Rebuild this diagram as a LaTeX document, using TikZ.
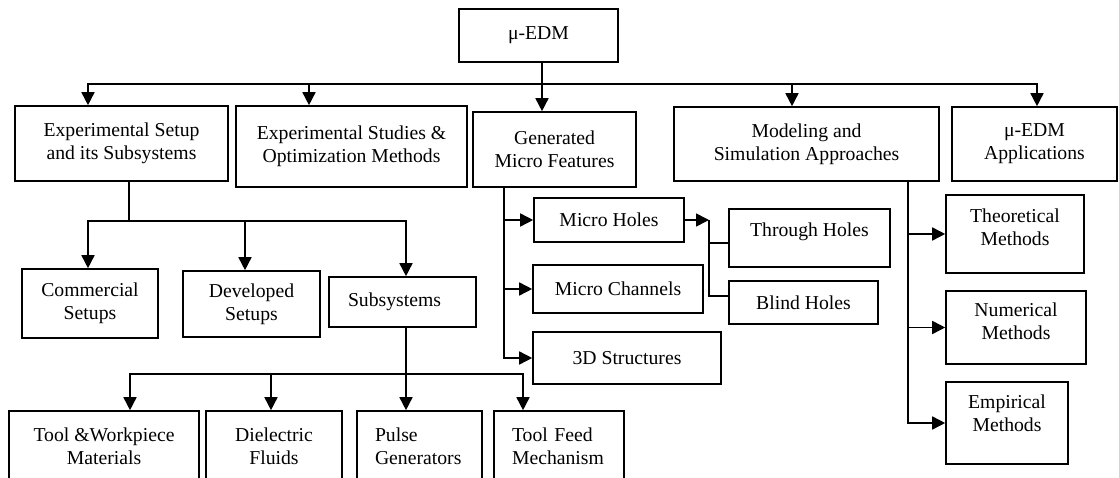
\documentclass[tikz,border=0pt]{standalone}
\usepackage{fontspec}
\setmainfont{Liberation Serif}
\usetikzlibrary{arrows.meta}
\newcommand{\upshift}[2]{\raisebox{#1}[\height][\depth]{#2}}
\begin{document}
\begin{tikzpicture}[x=1pt,y=-1pt,
  box/.style={draw, line width=1.6pt, inner sep=0pt, align=center, font=\fontsize{19.7}{23}\selectfont},
  lbox/.style={box, align=left, inner xsep=#1},
  wire/.style={line width=1.6pt},
  arr/.style={wire, -{Triangle[length=13pt,width=13pt]}}]
\useasboundingbox (0,0) rectangle (1119,478);
\fill[white] (0,0) rectangle (1119,478);

% top level
\node[box, minimum width=159, minimum height=53] (top) at (538.5,35.5) {μ-EDM};
\node[box, minimum width=213, minimum height=75] (e1) at (121.5,143.5) {Experimental Setup\\and its Subsystems};
\node[box, minimum width=231, minimum height=81] (e2) at (351.5,146.5) {Experimental Studies \&\\Optimization Methods};
\node[box, minimum width=163, minimum height=75] (gen) at (554.5,149.5) {Generated\\Micro Features};
\node[box, minimum width=265, minimum height=74] (mod) at (806.5,144) {Modeling and\\Simulation Approaches};
\node[box, minimum width=165, minimum height=74] (app) at (1034.5,144) {μ-EDM\\Applications};

% setups
\node[box, minimum width=136, minimum height=69] (comm) at (90,303.5) {Commercial\\Setups};
\node[box, minimum width=137, minimum height=66] (dev) at (251.5,304) {Developed\\Setups};
\node[lbox=19pt, text width=109pt, minimum width=147, minimum height=50] (subs) at (402.5,302) {Subsystems};

% subsystems
\node[box, minimum width=190, minimum height=70] (tw) at (104,446) {Tool \&Workpiece\\Materials};
\node[box, minimum width=136, minimum height=70] (df) at (274,446) {Dielectric\\Fluids};
\node[lbox=18pt, text width=89pt, minimum width=125, minimum height=70] (pg) at (419.5,446) {Pulse\\Generators};
\node[lbox=18pt, text width=94pt, minimum width=130, minimum height=70] (tf) at (559,446) {Tool Feed\\Mechanism};

% micro features
\node[box, minimum width=150, minimum height=44] (mh) at (609,220) {Micro Holes};
\node[box, minimum width=170, minimum height=48] (mc) at (618,289) {Micro Channels};
\node[box, minimum width=188, minimum height=52] (d3) at (627,358) {3D Structures};
\node[box, minimum width=161, minimum height=58] (th) at (809.5,238) {\upshift{6pt}{Through Holes}};
\node[box, minimum width=149, minimum height=43] (bh) at (803.5,302.5) {Blind Holes};

% modeling
\node[box, minimum width=138, minimum height=78] (theo) at (1015,234) {\upshift{5pt}{\begin{tabular}{@{}c@{}}Theoretical\\Methods\end{tabular}}};
\node[box, minimum width=140, minimum height=73] (num) at (1016,327.5) {\upshift{4pt}{\begin{tabular}{@{}c@{}}Numerical\\Methods\end{tabular}}};
\node[box, minimum width=122, minimum height=82] (emp) at (1007,423) {\upshift{8pt}{\begin{tabular}{@{}c@{}}Empirical\\Methods\end{tabular}}};

% main bus
\coordinate (bL) at (88,84);
\coordinate (b2) at (309,84);
\coordinate (b3) at (542,84);
\coordinate (b4) at (792,84);
\coordinate (bR) at (1037,84);
\draw[arr] (b2) -- (bL) -- (bL |- e1.north);
\draw[arr] (b2) -- (bR) -- (bR |- app.north);
\draw[arr] (b2) -- (b2 |- e2.north);
\draw[arr] (b3 |- top.south) -- (b3 |- gen.north);
\draw[arr] (b4) -- (b4 |- mod.north);

% setups bus
\coordinate (s1) at (129,221);
\coordinate (sL) at (88,221);
\coordinate (sM) at (245,221);
\coordinate (sR) at (406,221);
\draw[wire] (s1 |- e1.south) -- (s1);
\draw[arr] (s1) -- (sL) -- (sL |- comm.north);
\draw[arr] (s1) -- (sR) -- (sR |- subs.north);
\draw[arr] (sM) -- (sM |- dev.north);

% subsystems bus
\coordinate (u0) at (406,374);
\coordinate (uL) at (130,374);
\coordinate (u2) at (271,374);
\coordinate (uR) at (523,374);
\draw[arr] (u0 |- subs.south) -- (u0 |- pg.north);
\draw[arr] (u0) -- (uL) -- (uL |- tw.north);
\draw[arr] (u0) -- (uR) -- (uR |- tf.north);
\draw[arr] (u2) -- (u2 |- df.north);

% micro features branch
\coordinate (g0) at (504,0);
\draw[arr] (g0 |- gen.south) -- (g0 |- d3.west) -- (d3.west);
\draw[arr] (g0 |- mh.west) -- (mh.west);
\draw[arr] (g0 |- mc.west) -- (mc.west);

% holes
\coordinate (j) at (709,0);
\coordinate (jt) at (709,243);
\coordinate (jb) at (709,296);
\draw[arr] (mh.east) -- (j |- mh.east);
\draw[wire] (j |- mh.east) -- (jb) -- (jb -| bh.west);
\draw[wire] (jt) -- (jt -| th.west);

% modeling branch
\coordinate (m0) at (908,0);
\draw[arr] (m0 |- mod.south) -- (m0 |- emp.west) -- (emp.west);
\draw[arr] (m0 |- theo.west) -- (theo.west);
\draw[arr] (m0 |- num.west) -- (num.west);
\end{tikzpicture}
\end{document}
